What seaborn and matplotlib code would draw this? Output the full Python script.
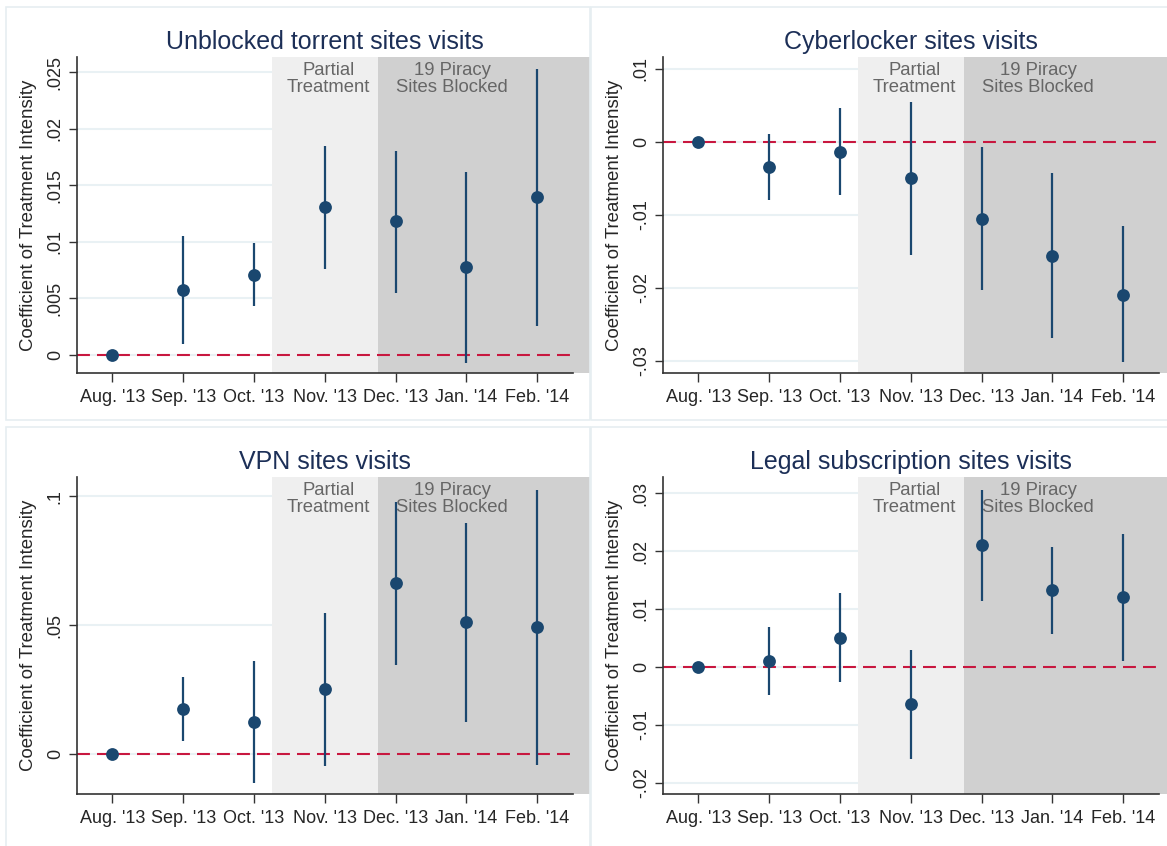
import numpy as np
import pandas as pd
import matplotlib
matplotlib.use("Agg")
import matplotlib.pyplot as plt
import seaborn as sns
from matplotlib.patches import Rectangle

# ---- data ----
months = ["Aug. '13", "Sep. '13", "Oct. '13", "Nov. '13", "Dec. '13", "Jan. '14", "Feb. '14"]
month_pos = [1, 2, 3, 4, 5, 6, 7]

torrent_coef = [0.0, 0.0057, 0.0071, 0.0131, 0.0118, 0.0078, 0.0140]
torrent_lo = [0.0, 0.0010, 0.0043, 0.0076, 0.0055, -0.0007, 0.0026]
torrent_hi = [0.0, 0.0105, 0.0099, 0.0185, 0.0180, 0.0162, 0.0253]

cyber_coef = [0.0, -0.0034, -0.0014, -0.0050, -0.0105, -0.0156, -0.0209]
cyber_lo = [0.0, -0.0080, -0.0073, -0.0155, -0.0203, -0.0269, -0.0302]
cyber_hi = [0.0, 0.0011, 0.0046, 0.0055, -0.0007, -0.0043, -0.0115]

vpn_coef = [0.0, 0.0175, 0.0125, 0.0251, 0.0663, 0.0510, 0.0492]
vpn_lo = [0.0, 0.0052, -0.0112, -0.0048, 0.0345, 0.0125, -0.0041]
vpn_hi = [0.0, 0.0300, 0.0362, 0.0547, 0.0979, 0.0895, 0.1023]

legal_coef = [0.0, 0.0010, 0.0050, -0.0064, 0.0210, 0.0132, 0.0120]
legal_lo = [0.0, -0.0049, -0.0026, -0.0158, 0.0114, 0.0057, 0.0010]
legal_hi = [0.0, 0.0069, 0.0127, 0.0029, 0.0306, 0.0207, 0.0230]

titles = ["Unblocked torrent sites visits", "Cyberlocker sites visits",
          "VPN sites visits", "Legal subscription sites visits"]

torrent_ticks = [0, 0.005, 0.01, 0.015, 0.02, 0.025]
torrent_ticklabels = ["0", ".005", ".01", ".015", ".02", ".025"]
cyber_ticks = [-0.03, -0.02, -0.01, 0, 0.01]
cyber_ticklabels = ["-.03", "-.02", "-.01", "0", ".01"]
vpn_ticks = [0, 0.05, 0.1]
vpn_ticklabels = ["0", ".05", ".1"]
legal_ticks = [-0.02, -0.01, 0, 0.01, 0.02, 0.03]
legal_ticklabels = ["-.02", "-.01", "0", ".01", ".02", ".03"]

ylims = [(-0.00159, 0.02633), (-0.03164, 0.01164), (-0.0155, 0.1074), (-0.0219, 0.03276)]

panels = [
    (torrent_coef, torrent_lo, torrent_hi, torrent_ticks, torrent_ticklabels),
    (cyber_coef, cyber_lo, cyber_hi, cyber_ticks, cyber_ticklabels),
    (vpn_coef, vpn_lo, vpn_hi, vpn_ticks, vpn_ticklabels),
    (legal_coef, legal_lo, legal_hi, legal_ticks, legal_ticklabels),
]

# ---- style ----
sns.set_style("white")
plt.rcParams["font.family"] = ["Liberation Sans", "DejaVu Sans"]

navy = "#1a476f"
red = "#c8173f"
grid_col = "#e9f1f4"
light_shade = "#efefef"
dark_shade = "#d0d0d0"

W, H = 1167, 846
fig = plt.figure(figsize=(W / 100, H / 100), dpi=100)

# faint panel borders
for (x0, y0, x1, y1) in [(6, 7, 590, 420), (591, 7, 1170, 420),
                         (6, 427, 590, 850), (591, 427, 1170, 850)]:
    fig.patches.append(Rectangle((x0 / W, 1 - y1 / H), (x1 - x0) / W, (y1 - y0) / H,
                                 transform=fig.transFigure, fill=False,
                                 edgecolor="#e6eef1", lw=1.2))

ax_boxes = [(77, 57, 373), (663, 57, 373), (77, 477, 794), (663, 477, 794)]
unit = 70.8

for i, (coef, lo, hi, ticks, ticklabels) in enumerate(panels):
    left, top, bottom = ax_boxes[i]
    width = 7.25 * unit
    ax = fig.add_axes([left / W, 1 - bottom / H, width / W, (bottom - top) / H])
    ax.set_axisbelow(True)

    ax.set_xlim(0.5, 7.75)
    ax.set_ylim(*ylims[i])

    # shaded periods
    ax.axvspan(3.25, 4.75, color=light_shade, lw=0, zorder=1)
    ax.axvspan(4.75, 7.75, color=dark_shade, lw=0, zorder=1)

    # zero line
    ax.hlines(0, 0.5, 7.5, colors=red, lw=1.5, linestyles=(0, (6.2, 3.4)), zorder=2)

    df = pd.DataFrame({"month": month_pos, "coef": coef, "lo": lo, "hi": hi})
    ax.vlines(df["month"], df["lo"], df["hi"], colors=navy, lw=1.6, zorder=3)
    sns.scatterplot(data=df, x="month", y="coef", ax=ax, color=navy, s=85,
                    edgecolor=navy, linewidth=0, zorder=4, legend=False)

    # text labels on shading
    ax.text(4.05, 0.985, "Partial\nTreatment", transform=ax.get_xaxis_transform(),
            ha="center", va="top", fontsize=13.3, color="#666666", linespacing=1.05, zorder=2)
    ax.text(5.8, 0.985, "19 Piracy\nSites Blocked", transform=ax.get_xaxis_transform(),
            ha="center", va="top", fontsize=13.3, color="#666666", linespacing=1.05, zorder=2)

    # axes decoration
    ax.set_xticks(month_pos)
    ax.set_xticklabels(months, fontsize=13)
    ax.set_yticks(ticks)
    ax.set_yticklabels(ticklabels, fontsize=13, rotation=90, va="center")
    ax.yaxis.grid(True, color=grid_col, lw=1.5)
    ax.xaxis.grid(False)
    ax.tick_params(axis="x", length=6.5, width=1, pad=5, color="#333333", bottom=True)
    ax.tick_params(axis="y", length=5.5, width=1, pad=4, color="#333333", left=True)

    for s in ["top", "right"]:
        ax.spines[s].set_visible(False)
    for s in ["left", "bottom"]:
        ax.spines[s].set_color("#333333")
        ax.spines[s].set_linewidth(1.2)
    ax.spines["bottom"].set_bounds(0.5, 7.5)

    ax.set_xlabel("")
    ax.set_ylabel("Coefficient of Treatment Intensity", fontsize=13.4)
    ax.yaxis.set_label_coords(-40 / width, 0.5)
    ax.set_title(titles[i], fontsize=18, color="#1c2f57", x=3.5 / 7.25, pad=6)

fig.savefig("out.png", dpi=100)
